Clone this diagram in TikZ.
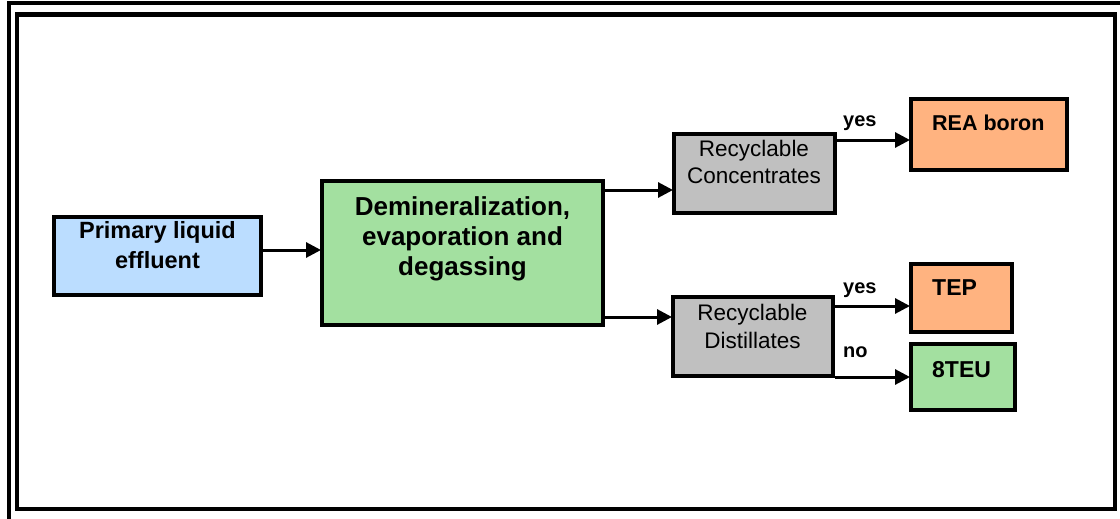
\documentclass[tikz,border=0pt]{standalone}
\usepackage{fontspec}
\setmainfont{Liberation Sans}
\usetikzlibrary{arrows.meta}
\definecolor{cblue}{RGB}{187,221,255}
\definecolor{cgreen}{RGB}{163,224,160}
\definecolor{cgrey}{RGB}{192,192,192}
\definecolor{corange}{RGB}{255,179,128}
\tikzset{
  box/.style={draw=black, line width=4pt, inner sep=0pt, rectangle},
  txt/.style={inner sep=0pt, align=center},
  lbl/.style={inner sep=0pt, anchor=base west, font=\fontsize{20}{24}\selectfont\bfseries},
  arr/.style={line width=3pt, -{Triangle[length=15pt,width=15pt]}, shorten >=-1pt}
}
\begin{document}
\begin{tikzpicture}[x=1pt,y=-1pt]
\useasboundingbox (0,0) rectangle (1120,519);
\fill[white] (0,0) rectangle (1120,519);
% frame
\draw[line width=4pt] (9,3) rectangle (1124,521);
\draw[line width=4.5pt] (17,14.5) rectangle (1115,509);
% boxes
\node[box, fill=cblue, minimum width=207pt, minimum height=78pt] (prim) at (157.5,256) {};
\node[box, fill=cgreen, minimum width=281pt, minimum height=144pt] (demin) at (462.5,253) {};
\node[box, fill=cgrey, minimum width=161pt, minimum height=79pt] (conc) at (754.5,173.5) {};
\node[box, fill=cgrey, minimum width=160pt, minimum height=79pt] (dist) at (753,336.5) {};
\node[box, fill=corange, minimum width=156pt, minimum height=71pt] (rea) at (989,134.5) {};
\node[box, fill=corange, minimum width=101pt, minimum height=68pt] (tep) at (961.5,298) {};
\node[box, fill=cgreen, minimum width=104pt, minimum height=66pt] (teu) at (963,377) {};
% texts (base anchor = baseline of the last line)
\node[txt, anchor=base, font=\fontsize{23.5}{30}\selectfont\bfseries] (primt) at (157.5,268) {Primary liquid\\effluent};
\node[txt, anchor=base, font=\fontsize{26}{30}\selectfont\bfseries] (demint) at (462.5,275) {Demineralization,\\evaporation and\\degassing};
\node[txt, anchor=base, font=\fontsize{22.5}{27}\selectfont] (conct) at (754,183) {Recyclable\\Concentrates};
\node[txt, anchor=base, font=\fontsize{22.5}{28}\selectfont] (distt) at (752.5,348) {Recyclable\\Distillates};
\node[txt, anchor=base west, font=\fontsize{21.5}{26}\selectfont\bfseries] (reat) at (932,130) {REA boron};
\node[txt, anchor=base west, font=\fontsize{23}{26}\selectfont\bfseries] (tept) at (932,295) {TEP};
\node[txt, anchor=base west, font=\fontsize{23}{26}\selectfont\bfseries] (teut) at (932,377) {8TEU};
% labels
\node[lbl] (yes1) at (843,126) {yes};
\node[lbl] (yes2) at (843,293) {yes};
\node[lbl] (no1) at (843,357) {no};
% arrow levels
\coordinate (y0) at (0,250);
\coordinate (y1) at (0,190);
\coordinate (y2) at (0,317);
\coordinate (y3) at (0,140);
\coordinate (y4) at (0,306);
\coordinate (y5) at (0,377);
\draw[arr] (prim.east |- y0) -- (demin.west |- y0);
\draw[arr] (demin.east |- y1) -- (conc.west |- y1);
\draw[arr] (demin.east |- y2) -- (dist.west |- y2);
\draw[arr] (conc.east |- y3) -- (rea.west |- y3);
\draw[arr] (dist.east |- y4) -- (tep.west |- y4);
\draw[arr] (dist.east |- y5) -- (teu.west |- y5);
\end{tikzpicture}
\end{document}
